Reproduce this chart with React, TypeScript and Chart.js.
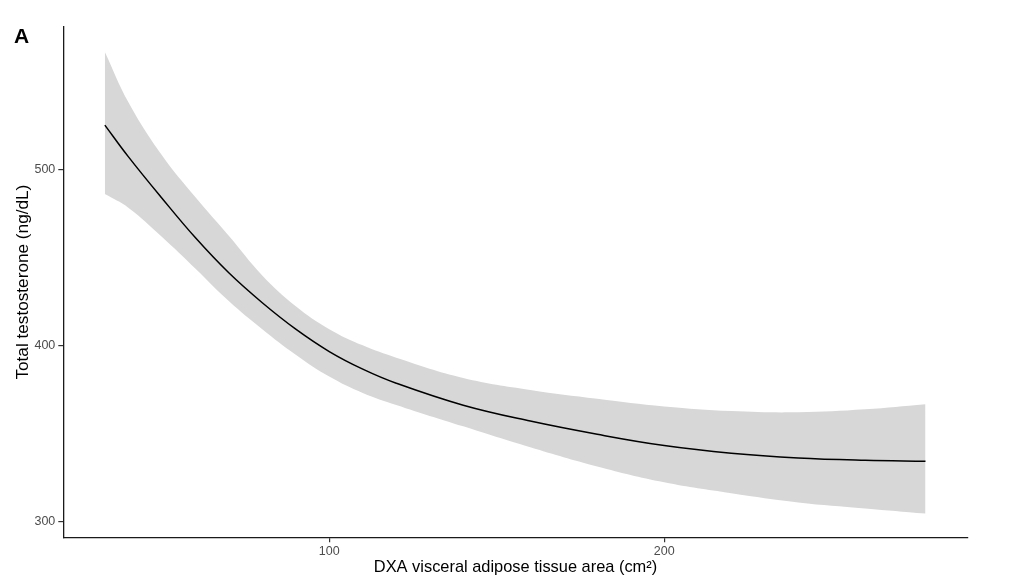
import React, { useEffect, useRef } from 'react';
import Chart from 'chart.js/auto';

// DXA visceral adipose tissue area (cm²) at the sampled points of the fitted curve
const xValues = [33, 40, 50, 60, 70, 80, 90, 100, 110, 120, 140, 160, 180, 200, 220, 240, 260, 278];
// fitted total testosterone (ng/dL)
const fitValues = [525.4, 507.5, 484, 461.5, 441.5, 424.5, 409.5, 396.8, 386.8, 378.8, 366.3, 357.3, 349.8, 343.4, 339, 336.3, 335, 334.5];
// confidence band
const upperValues = [566.9, 538.5, 508.4, 484.5, 462.5, 440, 422.5, 409.5, 400.3, 393.3, 381.8, 375, 370, 365.6, 363, 362.3, 364, 366.9];
const lowerValues = [486.2, 478.5, 462, 444, 425.5, 409.5, 395, 382.6, 373.3, 366.5, 354.3, 342.4, 331.5, 322.5, 316.3, 311.1, 307.7, 304.8];

const xTicks = [100, 200];
const yTicks = [300, 400, 500];

const FONT = '"Liberation Sans", Arial, Helvetica, sans-serif';

const panelLabel = {
    id: 'panelLabel',
    afterDraw: (chart: Chart) => {
        const { ctx } = chart;
        ctx.save();
        ctx.font = `bold 21px ${FONT}`;
        ctx.fillStyle = '#000';
        ctx.textBaseline = 'alphabetic';
        ctx.fillText('A', 14, 43);
        ctx.restore();
    }
};

const toPoints = (ys: number[]) => xValues.map((x, i) => ({ x, y: ys[i] }));

const App: React.FC = () => {
    const canvasRef = useRef<HTMLCanvasElement>(null);

    useEffect(() => {
        if (!canvasRef.current) return;

        const chart = new Chart(canvasRef.current, {
            type: 'line',
            data: {
                datasets: [
                    {
                        label: 'fit',
                        data: toPoints(fitValues),
                        borderColor: '#000',
                        borderWidth: 1.5,
                        pointRadius: 0,
                        fill: false,
                        tension: 0.4,
                        order: 0,
                    },
                    {
                        label: 'upper',
                        data: toPoints(upperValues),
                        borderColor: 'rgba(0,0,0,0)',
                        borderWidth: 0,
                        pointRadius: 0,
                        fill: '+1',
                        backgroundColor: '#d7d7d7',
                        tension: 0.4,
                        order: 1,
                    },
                    {
                        label: 'lower',
                        data: toPoints(lowerValues),
                        borderColor: 'rgba(0,0,0,0)',
                        borderWidth: 0,
                        pointRadius: 0,
                        fill: false,
                        tension: 0.4,
                        order: 2,
                    },
                ],
            },
            options: {
                animation: false,
                responsive: true,
                maintainAspectRatio: false,
                layout: { padding: { top: 27, right: 44.3, left: 0, bottom: 0 } },
                plugins: {
                    legend: { display: false },
                    tooltip: { enabled: false },
                },
                scales: {
                    x: {
                        type: 'linear',
                        min: 20.6,
                        max: 290.6,
                        afterBuildTicks: (scale: any) => {
                            scale.ticks = xTicks.map(v => ({ value: v }));
                        },
                        afterFit: (scale: any) => {
                            scale.height = 44.7;
                        },
                        ticks: {
                            color: '#4d4d4d',
                            font: { family: FONT, size: 12.5 },
                            padding: 2,
                            maxRotation: 0,
                        },
                        grid: {
                            drawOnChartArea: false,
                            tickLength: 5,
                            color: '#333',
                            lineWidth: 1.2,
                        },
                        border: { color: '#1a1a1a', width: 1.3 },
                        title: {
                            display: true,
                            text: 'DXA visceral adipose tissue area (cm²)',
                            color: '#000',
                            font: { family: FONT, size: 16.4 },
                            padding: { top: 0, bottom: 4.2 },
                        },
                    },
                    y: {
                        type: 'linear',
                        min: 291.3,
                        max: 581.1,
                        afterBuildTicks: (scale: any) => {
                            scale.ticks = yTicks.map(v => ({ value: v }));
                        },
                        afterFit: (scale: any) => {
                            scale.width = 63.3;
                        },
                        ticks: {
                            color: '#4d4d4d',
                            font: { family: FONT, size: 12.5 },
                            padding: 3,
                        },
                        grid: {
                            drawOnChartArea: false,
                            tickLength: 5,
                            color: '#333',
                            lineWidth: 1.2,
                        },
                        border: { color: '#1a1a1a', width: 1.3 },
                        title: {
                            display: true,
                            text: 'Total testosterone (ng/dL)',
                            color: '#000',
                            font: { family: FONT, size: 17.2 },
                            padding: { top: 13, bottom: 0 },
                        },
                    },
                },
            },
            plugins: [panelLabel],
        } as any);

        return () => {
            chart.destroy();
        };
    }, []);

    return (
        <div style={{ position: 'absolute', left: 0, top: 0, width: '1012px', height: '582px', background: '#fff' }}>
            <canvas ref={canvasRef} />
        </div>
    );
};

export default App;
